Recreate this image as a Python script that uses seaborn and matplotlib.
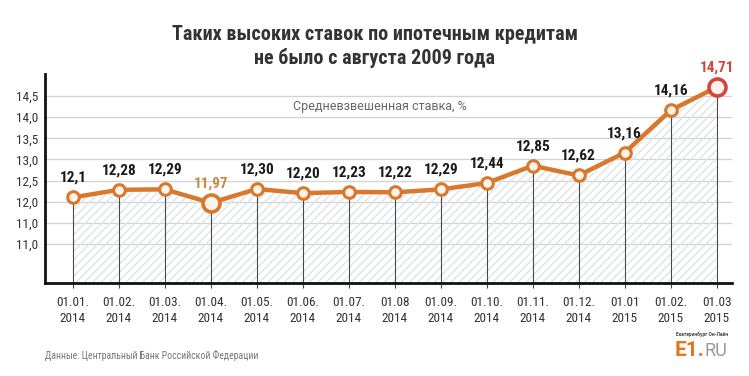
import matplotlib
matplotlib.use("Agg")
import matplotlib.pyplot as plt
import seaborn as sns
import pandas as pd

# данные
dates = ["01.01.\n2014", "01.02.\n2014", "01.03.\n2014", "01.04.\n2014", "01.05.\n2014",
         "01.06.\n2014", "01.07.\n2014", "01.08\n2014", "01.09.\n2014", "01.10.\n2014",
         "01.11.\n2014", "01.12.\n2014", "01.01\n2015", "01.02.\n2015", "01.03\n2015"]
rates = [12.10, 12.28, 12.29, 11.97, 12.30, 12.20, 12.23, 12.22, 12.29, 12.44,
         12.85, 12.62, 13.16, 14.16, 14.71]
rate_labels = ["12,1", "12,28", "12,29", "11,97", "12,30", "12,20", "12,23", "12,22",
               "12,29", "12,44", "12,85", "12,62", "13,16", "14,16", "14,71"]
ytick_vals = [14.5, 14.0, 13.5, 13.0, 12.5, 12.0, 11.5, 11.0]
ytick_labels = ["14,5", "14,0", "13,5", "13,0", "12,5", "12,0", "11,0", "11,0"]

df = pd.DataFrame({"x": range(len(rates)), "rate": rates})

sns.set_theme(style="white")
cond = ["Roboto Condensed", "Roboto", "DejaVu Sans"]
plt.rcParams["font.family"] = ["Roboto", "DejaVu Sans"]

ORANGE = "#d9782c"
RED = "#d6453a"
YMIN, YMAX = 10.07, 15.02

fig = plt.figure(figsize=(7.49, 3.76), dpi=100)
ax = fig.add_axes([0.060, 0.247, 0.917, 0.556])

# сетка
for v in ytick_vals:
    ax.axhline(v, color="#d2d2d2", lw=0.9, zorder=0)

# штриховка под линией
ax.fill_between(df["x"], df["rate"], YMIN, facecolor="none", edgecolor="#dde5eb",
                hatch="////", lw=0, zorder=1)

# вертикальные линии к оси
ax.vlines(df["x"], YMIN - 0.12, df["rate"], color="#4a4a4a", lw=0.8, zorder=2,
          clip_on=False)

sns.lineplot(data=df, x="x", y="rate", color=ORANGE, lw=3.2, ax=ax, zorder=3)
ax.scatter(df["x"], df["rate"], s=70, facecolor="#fcf4ea", edgecolor=ORANGE,
           lw=2.2, zorder=4)
ax.scatter([3], [rates[3]], s=150, facecolor="#fcf4ea", edgecolor=ORANGE, lw=2.6, zorder=5)
ax.scatter([14], [rates[14]], s=150, facecolor="#fcf4ea", edgecolor=RED, lw=2.6, zorder=5)

for i, (v, t) in enumerate(zip(rates, rate_labels)):
    col = "#1a1a1a"
    if i == 3:
        col = "#c98a4a"
    elif i == 14:
        col = RED
    ax.annotate(t, (i, v), xytext=(0, 9), textcoords="offset points", ha="center",
                va="bottom", fontsize=11, fontweight="bold", color=col,
                family=cond, zorder=6)

ax.set_xlim(-0.61, 14.33)
ax.set_ylim(YMIN, YMAX)
ax.set_yticks(ytick_vals)
ax.set_yticklabels(ytick_labels, family=cond, fontsize=9.5, color="#333333")
ax.set_xticks(df["x"])
ax.set_xticklabels(dates, family=cond, fontsize=9.5, color="#333333", linespacing=1.3)
ax.tick_params(axis="y", length=4, width=1, color="#222222", direction="inout", pad=3)
ax.tick_params(axis="x", length=0, pad=9)
ax.set_xlabel("")
ax.set_ylabel("")
ax.patch.set_alpha(0)

for s in ["top", "right"]:
    ax.spines[s].set_visible(False)
ax.spines["left"].set_color("#111111")
ax.spines["left"].set_linewidth(2)
ax.spines["bottom"].set_color("#111111")
ax.spines["bottom"].set_linewidth(2)

ax.text(0.488, 0.845, "Средневзвешенная ставка, %", transform=ax.transAxes,
        ha="center", va="center", fontsize=9, color="#666666")

fig.text(0.5, 0.907, "Таких высоких ставок по ипотечным кредитам",
         ha="center", va="center", fontsize=14.5, fontweight="bold", color="#333333",
         family=cond)
fig.text(0.5, 0.845, "не было с августа 2009 года",
         ha="center", va="center", fontsize=14.5, fontweight="bold", color="#333333",
         family=cond)

fig.text(0.060, 0.055, "Данные: Центральный Банк Российской Федерации",
         ha="left", va="center", fontsize=7, color="#777777", family=cond)
fig.text(0.903, 0.112, "Екатеринбург Он-Лайн", ha="left", va="center",
         fontsize=3.5, color="#444444", fontweight="bold")
fig.text(0.901, 0.068, "E1.", ha="left", va="center", fontsize=15,
         color="#e8711e", fontweight="bold")
fig.text(0.940, 0.066, "RU", ha="left", va="center", fontsize=13,
         color="#999999")

fig.savefig("out.png", dpi=100, facecolor="white")
